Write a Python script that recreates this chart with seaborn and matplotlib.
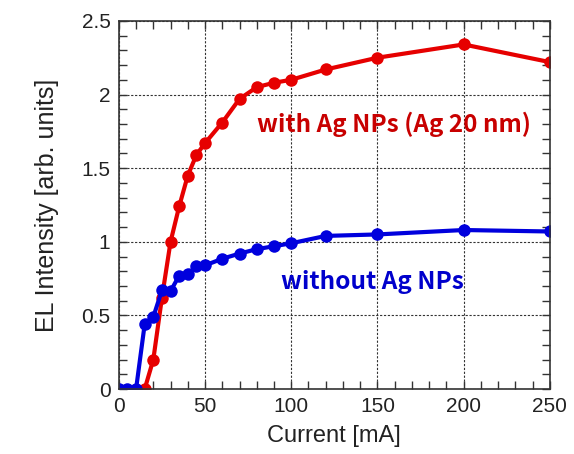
import matplotlib
matplotlib.use("Agg")
import matplotlib.pyplot as plt
from matplotlib.ticker import MultipleLocator
import pandas as pd
import seaborn as sns

# data
current_with = [15, 20, 25, 30, 35, 40, 45, 50, 60, 70, 80, 90, 100, 120, 150, 200, 250]
el_with = [0.0, 0.20, 0.62, 1.00, 1.24, 1.45, 1.59, 1.67, 1.81, 1.97, 2.05, 2.08, 2.10, 2.17, 2.25, 2.34, 2.22]

current_without = [0, 5, 10, 15, 20, 25, 30, 35, 40, 45, 50, 60, 70, 80, 90, 100, 120, 150, 200, 250]
el_without = [0.0, 0.0, 0.0, 0.44, 0.49, 0.67, 0.665, 0.77, 0.78, 0.835, 0.84, 0.885, 0.92, 0.95, 0.97, 0.99, 1.04, 1.05, 1.08, 1.07]

label_with = "with Ag NPs (Ag 20 nm)"
label_without = "without Ag NPs"

df = pd.concat([
    pd.DataFrame({"current": current_with, "el": el_with, "sample": label_with}),
    pd.DataFrame({"current": current_without, "el": el_without, "sample": label_without}),
])

sns.set_theme(style="ticks")
plt.rcParams["font.family"] = ["Liberation Sans", "DejaVu Sans"]

fig = plt.figure(figsize=(5.74, 4.54), dpi=100)
ax = fig.add_axes([0.207, 0.143, 0.751, 0.811])

palette = {label_with: "#e60000", label_without: "#0000dd"}
sns.lineplot(data=df, x="current", y="el", hue="sample", palette=palette,
             marker="o", markersize=9, markeredgewidth=0, linewidth=3,
             legend=False, ax=ax, sort=False)

ax.set_xlim(0, 250)
ax.set_ylim(0, 2.5)
ax.xaxis.set_major_locator(MultipleLocator(50))
ax.xaxis.set_minor_locator(MultipleLocator(10))
ax.yaxis.set_major_locator(MultipleLocator(0.5))
ax.yaxis.set_minor_locator(MultipleLocator(0.1))
ax.yaxis.set_major_formatter(lambda v, p: f"{v:g}")

ax.grid(True, which="major", linestyle=(0, (2, 1.5)), color="#333333", linewidth=0.8)
ax.tick_params(which="both", direction="in", top=True, right=True,
               color="#333333", width=1.0)
ax.tick_params(which="major", length=6, labelsize=15, labelcolor="#222222", pad=6)
ax.tick_params(which="minor", length=6)
for sp in ax.spines.values():
    sp.set_color("#333333")
    sp.set_linewidth(1.2)

ax.set_xlabel("Current [mA]", fontsize=17, color="#222222", labelpad=6)
ax.set_ylabel("EL Intensity [arb. units]", fontsize=18, color="#222222", labelpad=16)

ax.text(80, 1.80, label_with, color="#c80000", fontsize=17.5, va="center", ha="left",
        family=["Noto Sans CJK JP", "DejaVu Sans"], fontweight="bold")
ax.text(94, 0.73, label_without, color="#0000cc", fontsize=17.5, va="center", ha="left",
        family=["Noto Sans CJK JP", "DejaVu Sans"], fontweight="bold")

fig.savefig("out.png", dpi=100)
